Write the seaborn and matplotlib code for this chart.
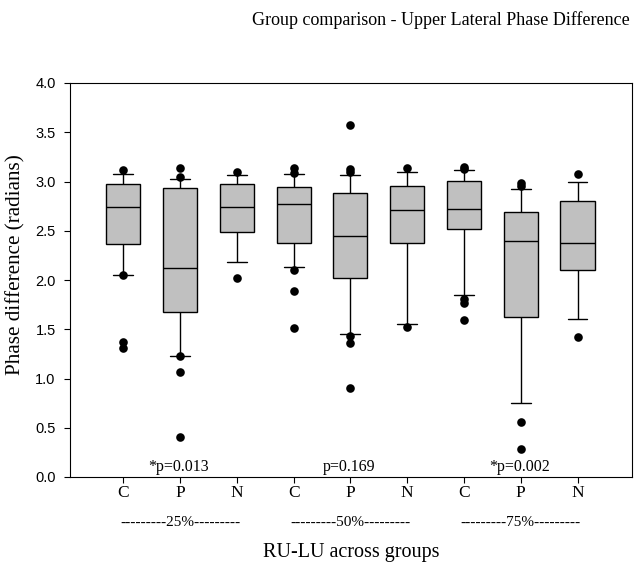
import matplotlib
matplotlib.use("Agg")
import matplotlib.pyplot as plt
import matplotlib.transforms as mtransforms
import seaborn as sns
import pandas as pd
import numpy as np

# ---- data ----
groups = ["C25", "P25", "N25", "C50", "P50", "N50", "C75", "P75", "N75"]
tick_labels = ["C", "P", "N", "C", "P", "N", "C", "P", "N"]
whisker_low = [2.05, 1.23, 2.18, 2.13, 1.45, 1.55, 1.85, 0.75, 1.60]
quartile1 = [2.37, 1.68, 2.49, 2.38, 2.02, 2.38, 2.52, 1.62, 2.10]
medians = [2.745, 2.125, 2.74, 2.775, 2.45, 2.715, 2.72, 2.40, 2.375]
quartile3 = [2.97, 2.93, 2.97, 2.945, 2.885, 2.95, 3.005, 2.69, 2.805]
whisker_high = [3.08, 3.03, 3.07, 3.075, 3.065, 3.095, 3.115, 2.925, 2.995]

outlier_groups = (["C25"] * 4 + ["P25"] * 5 + ["N25"] * 2 + ["C50"] * 5 +
                  ["P50"] * 6 + ["N50"] * 2 + ["C75"] * 5 + ["P75"] * 4 +
                  ["N75"] * 2)
outlier_values = [3.12, 2.05, 1.37, 1.31,
                  3.14, 3.045, 1.23, 1.07, 0.41,
                  3.095, 2.02,
                  3.135, 3.09, 2.10, 1.89, 1.51,
                  3.575, 3.125, 3.095, 1.435, 1.36, 0.90,
                  3.14, 1.525,
                  3.15, 3.13, 1.81, 1.77, 1.59,
                  2.985, 2.95, 0.555, 0.28,
                  3.075, 1.42]

p_texts = ["*p=0.013", "p=0.169", "*p=0.002"]
level_texts = ["---------25%---------", "---------50%---------", "---------75%---------"]
title = "Group comparison - Upper Lateral Phase Difference"
ylabel = "Phase difference (radians)"
xlabel = "RU-LU across groups"

# five-number summary table per group (quartiles land exactly on these values)
rows = []
for g, lo, a, m, b, hi in zip(groups, whisker_low, quartile1, medians, quartile3, whisker_high):
    for v in (lo, a, m, b, hi):
        rows.append({"group": g, "value": v})
box_df = pd.DataFrame(rows)
out_df = pd.DataFrame({"group": outlier_groups, "value": outlier_values})

sns.set_style("ticks")
plt.rcParams.update({"text.color": "black", "axes.labelcolor": "black",
                     "xtick.color": "black", "ytick.color": "black",
                     "axes.edgecolor": "black"})
serif = ["Liberation Serif", "DejaVu Serif"]
sans = ["Liberation Sans", "DejaVu Sans"]

W, H = 638, 572
fig = plt.figure(figsize=(W / 100, H / 100), dpi=100)
ax = fig.add_axes([70 / W, 1 - 477 / H, (632 - 70) / W, (477 - 83) / H])

sns.boxplot(data=box_df, x="group", y="value", order=groups, ax=ax,
            color="#c0c0c0", saturation=1, width=0.6, whis=(0, 100),
            linecolor="black", linewidth=1.0, showfliers=False,
            capwidths=0.35)
sns.stripplot(data=out_df, x="group", y="value", order=groups, ax=ax,
              jitter=False, color="black", size=6.2, linewidth=0)

ax.set_xlim(-0.94, 8.96)
ax.set_ylim(0, 4)
ax.set_yticks(np.arange(0, 4.01, 0.5))
ax.set_yticklabels([f"{v:.1f}" for v in np.arange(0, 4.01, 0.5)],
                   fontfamily=sans, fontsize=10.5)
ax.set_xticks(range(len(groups)))
ax.set_xticklabels(tick_labels, fontfamily=serif, fontsize=12.5)
ax.tick_params(axis="y", direction="out", length=4.3, width=0.8, pad=6,
               colors="black", labelcolor="black")
ax.tick_params(axis="x", direction="out", length=4, width=0.8, pad=2,
               colors="black", labelcolor="black")
ax.set_xlabel("")
ax.set_ylabel("")
for s in ax.spines.values():
    s.set_visible(True)
    s.set_color("black")
    s.set_linewidth(0.8)

# p-values inside the plot
for i, t in enumerate(p_texts):
    ax.text(1 + 3 * i - 0.02, 0.065, t, ha="center", va="baseline",
            fontfamily=serif, fontsize=11.5, color="black")

# level labels below ticks
blend = mtransforms.blended_transform_factory(ax.transData, fig.transFigure)
for i, t in enumerate(level_texts):
    ax.text(1 + 3 * i, 1 - 523 / H, t, transform=blend, color="black",
            ha="center", va="center", fontfamily=serif, fontsize=11)

fig.text(351 / W, 1 - 553 / H, xlabel, ha="center", va="center",
         fontfamily=serif, fontsize=14.5, color="black")
fig.text(16 / W, 1 - 265 / H, ylabel, ha="center", va="center", rotation=90,
         fontfamily=serif, fontsize=15.2, color="black")
fig.text(630 / W, 1 - 25 / H, title, ha="right", va="baseline",
         fontfamily=serif, fontsize=13.0, color="black")

fig.savefig("out.png", dpi=100)
